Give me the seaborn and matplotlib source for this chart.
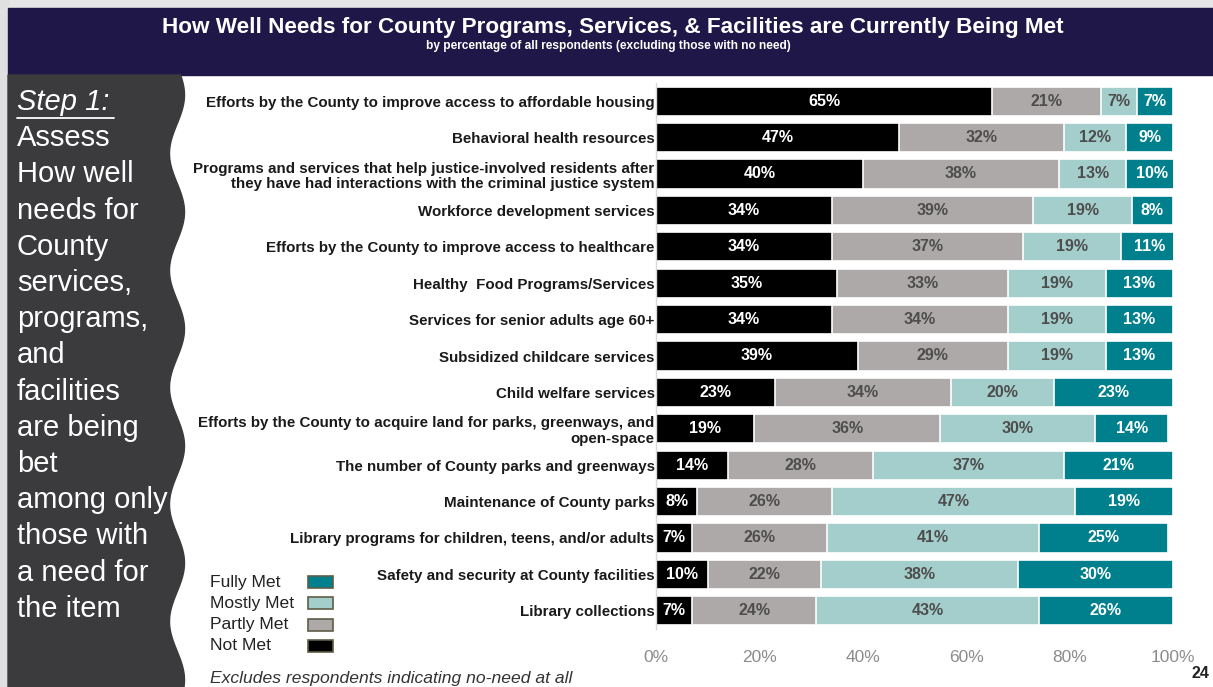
import numpy as np
import pandas as pd
import matplotlib
matplotlib.use("Agg")
import matplotlib.pyplot as plt
from matplotlib.patches import Rectangle, Polygon
from matplotlib.lines import Line2D
import seaborn as sns

# ---- data -------------------------------------------------------------
items = [
    "Efforts by the County to improve access to affordable housing",
    "Behavioral health resources",
    "Programs and services that help justice-involved residents after\nthey have had interactions with the criminal justice system",
    "Workforce development services",
    "Efforts by the County to improve access to healthcare",
    "Healthy  Food Programs/Services",
    "Services for senior adults age 60+",
    "Subsidized childcare services",
    "Child welfare services",
    "Efforts by the County to acquire land for parks, greenways, and\nopen-space",
    "The number of County parks and greenways",
    "Maintenance of County parks",
    "Library programs for children, teens, and/or adults",
    "Safety and security at County facilities",
    "Library collections",
]
not_met    = [65, 47, 40, 34, 34, 35, 34, 39, 23, 19, 14, 8, 7, 10, 7]
partly_met = [21, 32, 38, 39, 37, 33, 34, 29, 34, 36, 28, 26, 26, 22, 24]
mostly_met = [7, 12, 13, 19, 19, 19, 19, 19, 20, 30, 37, 47, 41, 38, 43]
fully_met  = [7, 9, 10, 8, 11, 13, 13, 13, 23, 14, 21, 19, 25, 30, 26]

levels = ["Not Met", "Partly Met", "Mostly Met", "Fully Met"]
colors = {"Not Met": "#000000", "Partly Met": "#ADA9A8",
          "Mostly Met": "#A3CECC", "Fully Met": "#007F8C"}
text_colors = {"Not Met": "white", "Partly Met": "#4d4d4d",
               "Mostly Met": "#4d4d4d", "Fully Met": "white"}
x_ticks = [0, 20, 40, 60, 80, 100]

df = pd.DataFrame({"item": items, "Not Met": not_met, "Partly Met": partly_met,
                   "Mostly Met": mostly_met, "Fully Met": fully_met})
cum = df[levels].cumsum(axis=1)

# ---- figure ----------------------------------------------------------
sns.set_theme(style="white")
plt.rcParams["font.family"] = ["Liberation Sans", "DejaVu Sans"]

W, H = 1213, 687
fig = plt.figure(figsize=(W / 100, H / 100), dpi=100)

# background layer in pixel coordinates
bg = fig.add_axes([0, 0, 1, 1], zorder=0)
bg.set_xlim(0, W)
bg.set_ylim(H, 0)
bg.axis("off")
bg.add_patch(Rectangle((0, 0), W, H, color="white"))
bg.add_patch(Rectangle((0, 0), W, 8, color="#e6e6e6"))
bg.add_patch(Rectangle((0, 0), 8, H, color="#e0e0e0"))
bg.add_patch(Rectangle((8, 8), W - 8, 67, color="#1F1747"))

# dark side panel with a wavy right edge
ys = np.linspace(75, H, 400)
xs = 177 + 7.5 * np.cos(2 * np.pi * (ys - 95) / 117)
panel = np.vstack([[8, 75], np.column_stack([xs, ys]), [8, H]])
bg.add_patch(Polygon(panel, closed=True, color="#3B3B3D"))

bg.text(613, 27, "How Well Needs for County Programs, Services, & Facilities are Currently Being Met",
        color="white", fontsize=16.2, fontweight="bold", ha="center", va="center")
bg.text(608, 46, "by percentage of all respondents (excluding those with no need)",
        color="white", fontsize=8.6, fontweight="bold", ha="center", va="center")

side_lines = ["Step 1:", "Assess", "How well", "needs for", "County", "services,",
              "programs,", "and", "facilities", "are being", "bet", "among only",
              "those with", "a need for", "the item"]
for i, line in enumerate(side_lines):
    bg.text(17, 102 + 36.2 * i, line, color="white", fontsize=21,
            ha="left", va="center", style="italic" if i == 0 else "normal")
bg.add_line(Line2D([17, 114], [118, 118], color="white", lw=1.3))

# legend: labels on the left, swatches on the right
legend_rows = list(reversed(levels))
for i, lvl in enumerate(legend_rows):
    yc = 582 + 21.3 * i
    bg.text(210, yc, lvl, color="#222222", fontsize=12.6, ha="left", va="center")
    bg.add_patch(Rectangle((308, yc - 6), 25, 12, facecolor=colors[lvl],
                           edgecolor="#5d5d45", lw=1.2))

bg.text(210, 678, "Excludes respondents indicating no-need at all", color="#333333",
        fontsize=12.6, style="italic", ha="left", va="center")
bg.text(1200, 674, "24", color="#222222", fontsize=11.5, fontweight="bold",
        ha="center", va="center")

# ---- stacked bars ----------------------------------------------------
ax = fig.add_axes([656 / W, 1 - 629 / H, (1173 - 656) / W, (629 - 83) / H], zorder=1)
ax.patch.set_alpha(0)

for lvl in reversed(levels):
    sns.barplot(data=cum.assign(item=items), y="item", x=lvl, orient="h",
                color=colors[lvl], width=0.8, edgecolor="white", linewidth=1.2,
                saturation=1, ax=ax)

for lvl in levels:
    for i in range(len(items)):
        v = df.loc[i, lvl]
        mid = cum.loc[i, lvl] - v / 2
        ax.text(mid, i, f"{v}%", ha="center", va="center", fontsize=11.5,
                fontweight="bold", color=text_colors[lvl])

ax.set_xlim(0, 100)
ax.set_ylim(len(items) - 0.5, -0.5)
ax.set_xlabel("")
ax.set_ylabel("")
ax.set_xticks(x_ticks)
ax.set_xticklabels([f"{t}%" for t in x_ticks], color="#8c8c8c", fontsize=12.5)
ax.tick_params(axis="x", length=0, pad=15)
ax.tick_params(axis="y", length=0, pad=1)
for lab in ax.get_yticklabels():
    lab.set_fontweight("bold")
    lab.set_fontsize(10.9)
    lab.set_color("#1a1a1a")
    lab.set_linespacing(1.12)
for s in ["top", "right", "bottom"]:
    ax.spines[s].set_visible(False)
ax.spines["left"].set_color("#d9d9d9")
ax.spines["left"].set_linewidth(1)

fig.savefig("out.png", dpi=100)
